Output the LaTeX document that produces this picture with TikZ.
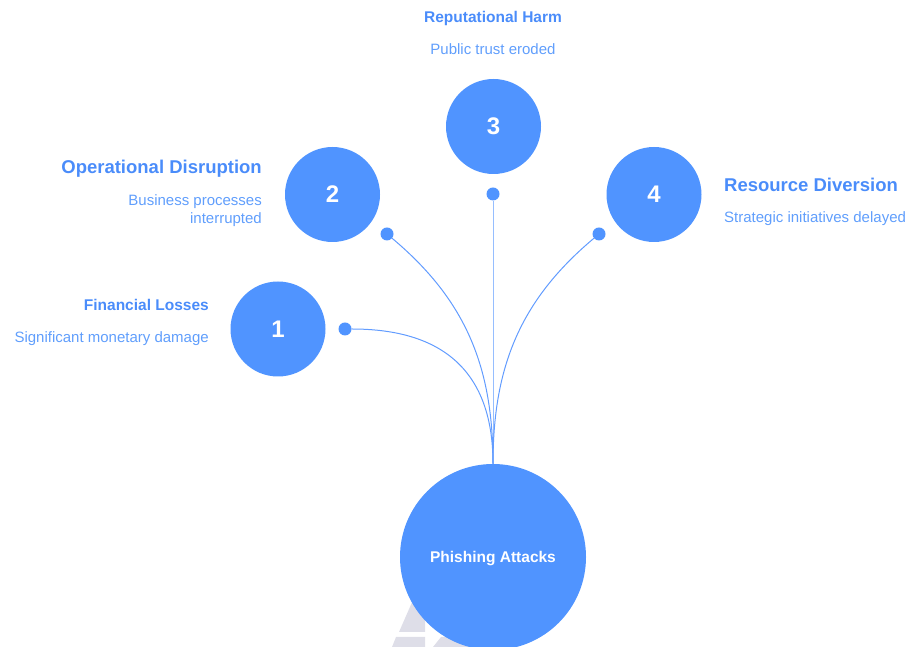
\documentclass[tikz,border=0pt]{standalone}
\usepackage{fontspec}
\setmainfont{Liberation Sans}
\usepackage{tikz}
\usetikzlibrary{arrows.meta}
\definecolor{bubblefill}{RGB}{80,148,255}
\definecolor{headblue}{RGB}{74,140,250}
\definecolor{captionblue}{RGB}{96,158,252}
\definecolor{linkblue}{RGB}{98,156,255}
\definecolor{stemblue}{RGB}{150,190,255}
\definecolor{markgray}{RGB}{222,222,232}
\tikzset{
	bubble/.style={circle, fill=bubblefill, text=white, inner sep=0pt,
		font=\bfseries\fontsize{24}{24}\selectfont, minimum size=95pt},
	dot/.style={circle, fill=bubblefill, inner sep=0pt, minimum size=13pt},
	link/.style={draw=linkblue, line width=1pt},
	heading/.style={text=headblue, inner sep=0pt, font=\bfseries\fontsize{15.5}{18}\selectfont},
	bigheading/.style={text=headblue, inner sep=0pt, font=\bfseries\fontsize{18.5}{22}\selectfont},
	caption/.style={text=captionblue, inner sep=0pt, font=\fontsize{15}{18}\selectfont},
}
\begin{document}
\begin{tikzpicture}[x=1pt, y=1pt]
\useasboundingbox (0,0) rectangle (910,647);

% faint mark behind the root
\fill[markgray] (413,47) -- (399,15) -- (425,15) -- (425,47) -- cycle;
\fill[markgray] (396,10) -- (392,0) -- (425,0) -- (425,10) -- cycle;
\fill[markgray] (433,0) -- (441,10) -- (470,10) -- (470,0) -- cycle;

\node[bubble, minimum size=186pt, text depth=0pt, font=\bfseries\fontsize{15.5}{18}\selectfont] (attack) at (493,90) {Phishing Attacks};

% numbered bubbles and their dots
\foreach \n/\x/\y/\dx/\dy in {1/278/318/345/318, 2/332.5/452.5/387/413,
		3/493.5/520.5/493/453, 4/654/452.5/599/413}
{
	\node[bubble] (c\n) at (\x,\y) {\n};
	\node[dot] (d\n) at (\dx,\dy) {};
}

\coordinate (top) at (attack.north);
\draw[link] (d1) to[out=0, in=90, looseness=1.2] (top);
\draw[link] (d2) to[out=-40, in=90] (top);
\draw[link, draw=stemblue] (d3) -- (top);
\draw[link] (d4) to[out=220, in=90] (top);

% labels
\node[heading, anchor=base east] (loss) at (209,336) {Financial Losses};
\node[caption, anchor=base east] (lossnote) at (209,304) {Significant monetary damage};

\node[bigheading, anchor=base east] (ops) at (262,473) {Operational Disruption};
\node[caption, anchor=north east, align=right] (opsnote) at (262,452.7) {Business processes\\interrupted};

\node[heading, anchor=base] (rep) at (493,624) {Reputational Harm};
\node[caption, anchor=base] (repnote) at (493,592) {Public trust eroded};

\node[bigheading, anchor=base west] (res) at (724,455) {Resource Diversion};
\node[caption, anchor=base west] (resnote) at (724,424) {Strategic initiatives delayed};
\end{tikzpicture}
\end{document}
